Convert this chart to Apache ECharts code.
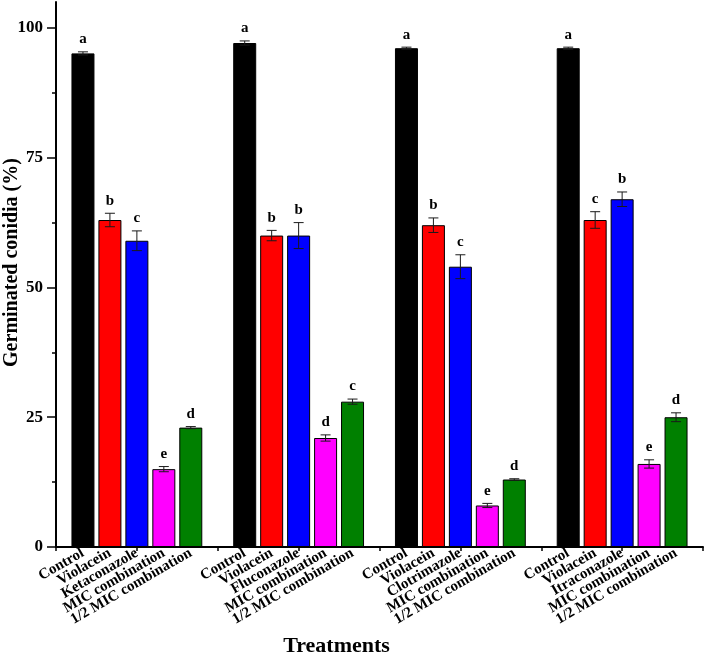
<!DOCTYPE html>
<html>
<head>
<meta charset="utf-8">
<script src="https://cdn.jsdelivr.net/npm/echarts@6/dist/echarts.min.js"></script>
<style>
html,body{margin:0;padding:0;background:#fff;}
#chart{width:708px;height:657px;}
</style>
</head>
<body>
<div id="chart"></div>
<script>
// ---- data ----
const drugs = ['Ketaconazole', 'Fluconazole', 'Clotrimazole', 'Itraconazole'];
const treatmentNames = ['Control', 'Violacein', null, 'MIC combination', '1/2 MIC combination'];
const control      = [95.1, 97.1, 96.1, 96.1];
const violacein    = [63.0, 60.0, 62.0, 63.0];
const drugAlone    = [59.0, 60.0, 54.0, 67.0];
const micComb      = [15.0, 21.0, 8.0, 16.0];
const halfMicComb  = [23.0, 28.0, 13.0, 25.0];
const controlErr   = [0.3, 0.4, 0.2, 0.2];
const violaceinErr = [1.3, 1.0, 1.4, 1.6];
const drugErr      = [1.9, 2.5, 2.3, 1.4];
const micErr       = [0.5, 0.6, 0.4, 0.8];
const halfMicErr   = [0.2, 0.5, 0.15, 0.85];
const controlLet   = ['a', 'a', 'a', 'a'];
const violaceinLet = ['b', 'b', 'b', 'c'];
const drugLet      = ['c', 'b', 'c', 'b'];
const micLet       = ['e', 'd', 'e', 'e'];
const halfMicLet   = ['d', 'c', 'd', 'd'];
const yTicks = [0, 25, 50, 75, 100];
const yMinorTicks = [12.5, 37.5, 62.5, 87.5];

// ---- build ----
const colors = ['#000000', '#ff0000', '#0000ff', '#ff00ff', '#008000'];
const valSets = [control, violacein, drugAlone, micComb, halfMicComb];
const errSets = [controlErr, violaceinErr, drugErr, micErr, halfMicErr];
const letSets = [controlLet, violaceinLet, drugLet, micLet, halfMicLet];

const categories = [''];
const barData = ['-'];
const errData = [];
const letters = [];
for (let g = 0; g < drugs.length; g++) {
  for (let k = 0; k < 5; k++) {
    const idx = categories.length;
    categories.push(k === 2 ? drugs[g] : treatmentNames[k]);
    barData.push({ value: valSets[k][g], itemStyle: { color: colors[k] } });
    errData.push([idx, valSets[k][g], errSets[k][g]]);
    letters.push(letSets[k][g]);
  }
  categories.push('');
  barData.push('-');
}

const serif = '"Liberation Serif", "Times New Roman", serif';
const chart = echarts.init(document.getElementById('chart'), null, { renderer: 'canvas' });

chart.setOption({
  animation: false,
  backgroundColor: '#fff',
  grid: { left: 56, right: 5, top: 2, bottom: 110, containLabel: false, outerBoundsMode: 'none' },
  xAxis: {
    type: 'category',
    data: categories,
    boundaryGap: false,
    name: 'Treatments',
    nameLocation: 'middle',
    nameGap: 88,
    nameMoveOverlap: false,
    nameTextStyle: { fontFamily: serif, fontWeight: 'bold', fontSize: 22, color: '#000', padding: [0, 86, 0, 0] },
    axisLine: { lineStyle: { color: '#000', width: 2 } },
    axisTick: { show: true, length: 4, interval: function (i) { return i % 3 === 0; }, lineStyle: { color: '#000', width: 1.5 } },
    axisLabel: { interval: 0, rotate: 30, margin: 5, fontFamily: serif, fontWeight: 'bold', fontSize: 15, color: '#000' },
    splitLine: { show: false }
  },
  yAxis: [{
    type: 'value',
    min: 0, max: 105, interval: 25,
    name: 'Germinated conidia (%)',
    nameLocation: 'middle',
    nameRotate: 90,
    nameGap: 34,
    nameMoveOverlap: false,
    nameTextStyle: { fontFamily: serif, fontWeight: 'bold', fontSize: 20, color: '#000', padding: [0, 0, 0, 24] },
    axisLine: { show: true, lineStyle: { color: '#000', width: 2 } },
    axisTick: { show: true, length: 9, customValues: yTicks, lineStyle: { color: '#000', width: 1.5 } },
    axisLabel: { customValues: yTicks, margin: 13, fontFamily: serif, fontWeight: 'bold', fontSize: 17, color: '#000', padding: [0, 0, 10, 0] },
    splitLine: { show: false }
  }, {
    type: 'value',
    min: 0, max: 105, interval: 25,
    position: 'left',
    axisLine: { show: false },
    axisTick: { show: true, length: 4, customValues: yMinorTicks, lineStyle: { color: '#000', width: 1.5 } },
    axisLabel: { show: false },
    splitLine: { show: false }
  }],
  series: [{
    type: 'bar',
    data: barData,
    barWidth: 23,
    itemStyle: { borderColor: '#000', borderWidth: 1 },
    z: 2
  }, {
    type: 'custom',
    data: errData,
    z: 5,
    renderItem: function (params, api) {
      const x = api.value(0), m = api.value(1), e = api.value(2);
      const top = api.coord([x, m + e]);
      const bot = api.coord([x, m - e]);
      const cx = top[0];
      const half = 5;
      const st = { stroke: '#1a1a1a', lineWidth: 1 };
      return {
        type: 'group',
        children: [
          { type: 'line', shape: { x1: cx, y1: top[1], x2: cx, y2: bot[1] }, style: st },
          { type: 'line', shape: { x1: cx - half, y1: top[1], x2: cx + half, y2: top[1] }, style: st },
          { type: 'line', shape: { x1: cx - half, y1: bot[1], x2: cx + half, y2: bot[1] }, style: st },
          { type: 'text', style: { text: letters[params.dataIndex], x: cx, y: top[1] - 5, align: 'center', verticalAlign: 'bottom', font: 'bold 15px ' + serif, fill: '#000' } }
        ]
      };
    }
  }]
});
</script>
</body>
</html>
